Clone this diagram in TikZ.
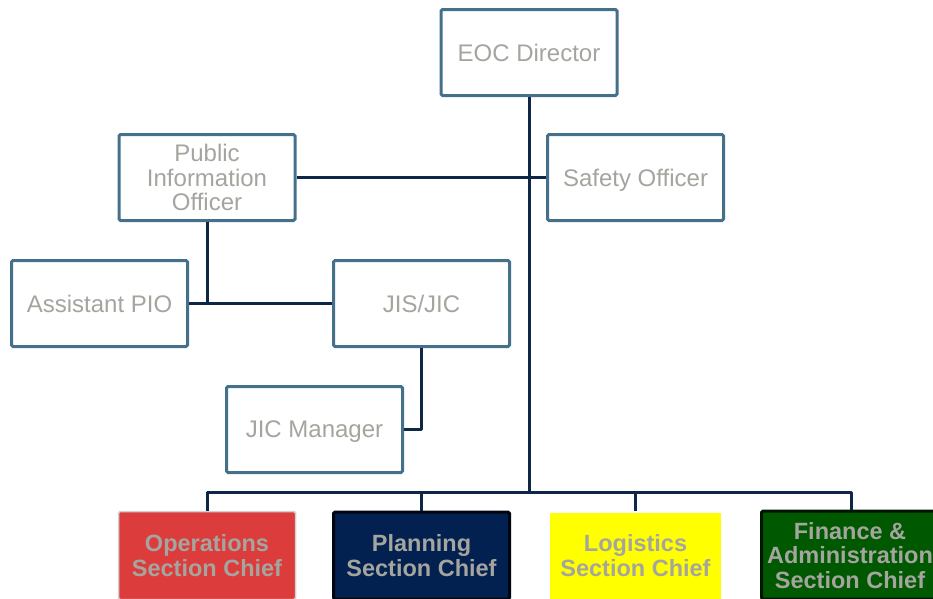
\documentclass[tikz,border=0pt]{standalone}
\usepackage{fontspec}
\setmainfont{Liberation Sans}
\definecolor{boxline}{HTML}{45708C}
\definecolor{wire}{HTML}{0F2747}
\definecolor{label}{HTML}{A5A59F}
\definecolor{opsred}{HTML}{DC3C3C}
\definecolor{plannavy}{HTML}{022050}
\definecolor{logyellow}{HTML}{FFFF00}
\definecolor{fingreen}{HTML}{005800}
\tikzset{
  staffbox/.style={draw=boxline, line width=3pt, fill=white, rounded corners=1.5pt,
    minimum width=176pt, minimum height=86pt, inner sep=2pt, align=center,
    text depth=0pt, text=label, font=\fontsize{24}{24.5}\selectfont},
  chiefbox/.style={staffbox, font=\bfseries\fontsize{23.5}{24.5}\selectfont},
  link/.style={draw=wire, line width=3pt, line join=round}
}
\begin{document}
\begin{tikzpicture}[x=1pt,y=-1pt]
\useasboundingbox (0,0) rectangle (933,598);
% command and general staff
\node[staffbox] (eoc) at (529,52.5) {EOC Director};
\node[staffbox] (pio) at (207,177.5) {Public\\Information\\Officer};
\node[staffbox] (safety) at (635.5,177.5) {Safety Officer};
\node[staffbox] (apio) at (99.5,303.5) {Assistant PIO};
\node[staffbox] (jis) at (421.5,303.5) {JIS/JIC};
\node[staffbox] (jicm) at (314.5,429.5) {JIC Manager};
% section chiefs
\node[chiefbox, fill=opsred, draw=black!18, line width=1.5pt, minimum width=177pt, minimum height=88pt] (ops) at (207,555.5) {Operations\\Section Chief};
\node[chiefbox, fill=plannavy, draw=black!80!plannavy, minimum height=87pt] (plan) at (421.5,555.5) {Planning\\Section Chief};
\node[chiefbox, fill=logyellow, draw=none, minimum width=171pt, minimum height=86pt, rounded corners=0pt] (log) at (635.5,555.5) {Logistics\\Section Chief};
\node[chiefbox, fill=fingreen, draw=black!75!fingreen, minimum width=177pt, minimum height=88pt] (fin) at (850,555) {Finance \&\\Administration\\Section Chief};
% reporting lines
\coordinate (bus) at (0,492);
\draw[link] (pio.east) -- (safety.west);
\draw[link] (eoc.south) -- (eoc.south |- bus);
\draw[link] (pio.south) -- (pio.south |- apio.east);
\draw[link] (apio.east) -- (jis.west);
\draw[link] (jis.south) -- (jis.south |- jicm.east) -- (jicm.east);
\draw[link] (ops.north) -- (ops.north |- bus) -- ([xshift=1pt]fin.north |- bus) -- ([xshift=1pt]fin.north);
\draw[link] (plan.north) -- (plan.north |- bus);
\draw[link] (log.north) -- (log.north |- bus);
\end{tikzpicture}
\end{document}
